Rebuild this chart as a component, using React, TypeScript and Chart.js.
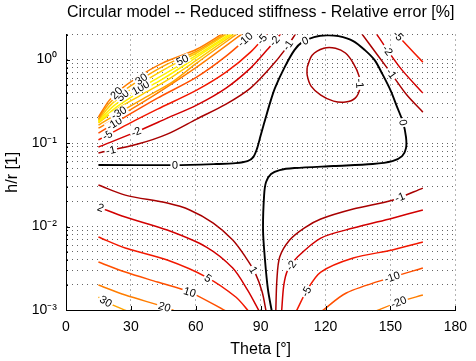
import React, { useEffect, useRef } from 'react';
import { Chart, registerables } from 'chart.js';

Chart.register(...registerables);

type Pt = [number, number];

const titleText = 'Circular model -- Reduced stiffness - Relative error [%]';
const xTitle = 'Theta [°]';
const yTitle = 'h/r [1]';
const xTicks = [0, 30, 60, 90, 120, 150, 180];
const yMajor = [0.001, 0.01, 0.1, 1];
const yMajorLabels = ['10⁻³', '10⁻²', '10⁻¹', '10⁰'];
const yMin = 0.001;
const yMax = 2;

// contour lines, points as [theta (deg), h/r]
const zeroContour: Pt[] = [
  [15, 0.0546], [50, 0.0545], [69.4, 0.0561], [78.5, 0.0575], [83.9, 0.0608], [86.6, 0.068],
  [88.4, 0.0871], [89.8, 0.118], [91.1, 0.156], [92.0, 0.188], [94.3, 0.301], [96.6, 0.456],
  [101.1, 0.813], [105.6, 1.3], [109.2, 1.62], [114.7, 1.86], [120.6, 1.96], [126.0, 1.91],
  [132.8, 1.67], [138.2, 1.3], [142.7, 0.986], [146.3, 0.67], [150.0, 0.431], [153.1, 0.27],
  [155.8, 0.178], [157.2, 0.118], [157.2, 0.0871], [155.4, 0.0698], [150.9, 0.0608],
  [141.8, 0.0561], [123.7, 0.0531], [105.6, 0.0502], [98.8, 0.0475], [94.8, 0.0426],
  [92.5, 0.0341], [91.6, 0.0238], [91.1, 0.00908], [92.0, 0.00397], [93.4, 0.00174], [95.2, 0.00095],
];
const loopM1: Pt[] = [
  [111.5, 0.813], [113.8, 1.13], [119.2, 1.37], [124.6, 1.37], [129.2, 1.2], [132.8, 0.908],
  [135.5, 0.634], [135.9, 0.456], [133.7, 0.346], [129.2, 0.31], [123.7, 0.318], [117.8, 0.376],
  [113.3, 0.482], [111.5, 0.652], [111.5, 0.813],
];
const rightM1: Pt[] = [[136.4, 2.1], [144.1, 1.13], [150.9, 0.652], [157.6, 0.376], [165, 0.235]];
const rightM2: Pt[] = [[143.2, 2.1], [148.6, 1.3], [155.4, 0.748], [165, 0.397]];
const rightM5: Pt[] = [[152.2, 2.1], [157.6, 1.49], [165, 0.933]];

const topM1: Pt[] = [[15, 0.0759], [33.2, 0.0973], [46.8, 0.128], [60.4, 0.194], [74.0, 0.293], [85.3, 0.456], [94.3, 0.791], [101.1, 1.3], [106.5, 2.1]];
const topM2: Pt[] = [[15, 0.0896], [33.2, 0.139], [46.8, 0.199], [60.4, 0.285], [74.0, 0.456], [85.3, 0.791], [92.9, 1.3], [99.7, 2.1]];
const topM5: Pt[] = [[15, 0.109], [28.7, 0.169], [42.3, 0.255], [60.4, 0.431], [74.0, 0.708], [85.3, 1.23], [93.4, 2.1]];
const topM10: Pt[] = [[15, 0.132], [28.7, 0.216], [42.3, 0.346], [60.4, 0.617], [74.0, 1.1], [86.6, 2.1]];
const topM20: Pt[] = [[15, 0.151], [28.7, 0.242], [42.3, 0.397], [60.4, 0.813], [82.1, 2.1]];
const topM30: Pt[] = [[15, 0.164], [26.5, 0.248], [37.8, 0.366], [49.1, 0.538], [60.4, 0.908], [79.8, 2.1]];
const topM50: Pt[] = [[15, 0.174], [24.2, 0.262], [35.5, 0.386], [46.8, 0.568], [60.4, 0.986], [78.5, 2.1]];
const topM100: Pt[] = [[15, 0.178], [23.3, 0.27], [33.2, 0.397], [44.6, 0.583], [60.4, 1.07], [77.6, 2.1]];
const topP100: Pt[] = [[15, 0.183], [21.9, 0.277], [31.0, 0.408], [42.3, 0.6], [60.4, 1.13], [76.7, 2.1]];
const topP50: Pt[] = [[15, 0.188], [20.6, 0.285], [28.7, 0.419], [37.8, 0.583], [49.1, 0.859], [60.4, 1.2], [75.3, 2.1]];
const topP30: Pt[] = [[15, 0.194], [19.7, 0.293], [26.5, 0.419], [35.5, 0.6], [46.8, 0.883], [60.4, 1.26], [74.4, 2.1]];
const topP20: Pt[] = [[15, 0.205], [19.7, 0.318], [24.2, 0.419], [33.2, 0.617], [44.6, 0.908], [60.4, 1.33], [73.1, 2.1]];

const botP1: Pt[] = [[15, 0.0314], [27.4, 0.0238], [46.8, 0.0191], [57.2, 0.0158], [68.1, 0.011], [77.1, 0.00689], [83.0, 0.00431], [87.5, 0.00277], [90.7, 0.00164], [92.5, 0.00097]];
const botP2: Pt[] = [[15, 0.0171], [27.4, 0.013], [46.8, 0.00908], [64.9, 0.00568], [77.1, 0.00318], [83.9, 0.00174], [89.3, 0.00097]];
const botP5: Pt[] = [[15, 0.00748], [27.4, 0.00553], [46.8, 0.00397], [64.9, 0.00248], [78.5, 0.00143], [84.4, 0.00097]];
const botP10: Pt[] = [[15, 0.00376], [27.4, 0.00285], [42.3, 0.00216], [57.2, 0.00164], [74.0, 0.00097]];
const botP20: Pt[] = [[15, 0.00199], [27.4, 0.00151], [45.5, 0.00109], [50.4, 0.00097]];
const botP30: Pt[] = [[15, 0.00143], [19.7, 0.00121], [28.3, 0.00097]];

const botM1: Pt[] = [[97.0, 0.00097], [97.5, 0.00229], [98.8, 0.00431], [103.4, 0.00689], [110.1, 0.00959], [117.8, 0.0123], [132.8, 0.0162], [150.9, 0.0207], [165, 0.0289]];
const botM2: Pt[] = [[99.7, 0.00097], [100.7, 0.00199], [102.5, 0.00301], [107.0, 0.00431], [117.8, 0.00728], [132.8, 0.00959], [150.9, 0.0126], [165, 0.0158]];
const botM5: Pt[] = [[106.5, 0.00097], [111.5, 0.00174], [117.8, 0.00285], [132.8, 0.0042], [150.9, 0.00524], [165, 0.00652]];
const botM10: Pt[] = [[118.3, 0.00097], [129.6, 0.0016], [150.9, 0.00248], [165, 0.00318]];
const botM20: Pt[] = [[143.2, 0.00097], [154.0, 0.00125], [165, 0.00151]];

// [line key, level, points]
const contourLines: [string, number, Pt[]][] = [
  ['topP20', 20, topP20], ['topP30', 30, topP30], ['topP50', 50, topP50], ['topP100', 100, topP100],
  ['topM100', -100, topM100], ['topM50', -50, topM50], ['topM30', -30, topM30], ['topM20', -20, topM20],
  ['topM10', -10, topM10], ['topM5', -5, topM5], ['topM2', -2, topM2], ['topM1', -1, topM1],
  ['rightM1', -1, rightM1], ['rightM2', -2, rightM2], ['rightM5', -5, rightM5], ['loopM1', -1, loopM1],
  ['botP1', 1, botP1], ['botP2', 2, botP2], ['botP5', 5, botP5], ['botP10', 10, botP10],
  ['botP20', 20, botP20], ['botP30', 30, botP30],
  ['botM1', -1, botM1], ['botM2', -2, botM2], ['botM5', -5, botM5], ['botM10', -10, botM10], ['botM20', -20, botM20],
  ['zero', 0, zeroContour],
];

// contour labels: [text, line key, theta, h/r]
const contourLabels: [string, string, number, number][] = [
  ['-1', 'loopM1', 135.9, 0.52],
  ['-1', 'rightM1', 151, 0.7], ['-2', 'rightM2', 147.7, 1.24], ['-5', 'rightM5', 152.8, 1.85],
  ['-1', 'topM1', 20.6, 0.085], ['-2', 'topM2', 32.3, 0.139], ['-5', 'topM5', 18.8, 0.13], ['-10', 'topM10', 22.4, 0.17],
  ['-30', 'topM30', 24.2, 0.235], ['50', 'topP50', 28.7, 0.31], ['100', 'topP100', 34.6, 0.456],
  ['20', 'topP20', 23.3, 0.397], ['30', 'topP30', 34.2, 0.617], ['50', 'topP50', 52.7, 1.13],
  ['-10', 'topM10', 83.1, 1.71], ['-5', 'topM5', 91.1, 1.71], ['-2', 'topM2', 97, 1.62], ['-1', 'topM1', 102.5, 1.49],
  ['2', 'botP2', 16.1, 0.0171], ['1', 'botP1', 86.6, 0.00301], ['5', 'botP5', 65.8, 0.00242],
  ['10', 'botP10', 57.2, 0.00164], ['20', 'botP20', 45.5, 0.00109], ['30', 'botP30', 18.3, 0.00125],
  ['-1', 'botM1', 154.5, 0.0219], ['-2', 'botM2', 105.6, 0.00318], ['-5', 'botM5', 111.5, 0.00164],
  ['-10', 'botM10', 150.9, 0.00242], ['-20', 'botM20', 154, 0.00121],
  ['0', 'zero', 50.4, 0.0546], ['0', 'zero', 110.5, 1.7], ['0', 'zero', 156.6, 0.178],
];

const FONT = '"Liberation Sans", Arial, Helvetica, sans-serif';

const levelColor = (lvl: number): string => {
  const a = Math.abs(lvl);
  const map: Record<number, string> = {
    0: '#000000', 1: '#a80000', 2: '#d20000', 5: '#f21800', 10: '#ff5000',
    20: '#ff7d00', 30: '#ffa400', 50: '#ffcf00', 100: '#fff000',
  };
  return map[a] || '#000';
};

const isMajor = (v: number) => yMajor.findIndex((m) => Math.abs(m - v) / m < 1e-6);

const yTickValues: number[] = [];
for (let d = -3; d <= 0; d++) {
  for (let m = 1; m <= 9; m++) {
    const v = parseFloat((m * Math.pow(10, d)).toPrecision(6));
    if (v <= yMax + 1e-9) yTickValues.push(v);
  }
}

const labelPlugin = {
  id: 'contourLabels',
  afterDatasetsDraw(chart: any) {
    const { ctx, scales } = chart;
    const xs = scales.x;
    const ys = scales.y;
    const byKey: Record<string, Pt[]> = {};
    contourLines.forEach(([k, , p]) => { byKey[k] = p; });
    ctx.save();
    ctx.font = `11px ${FONT}`;
    ctx.textAlign = 'center';
    ctx.textBaseline = 'middle';
    for (const [text, key, th, hv] of contourLabels) {
      const pts = byKey[key];
      if (!pts) continue;
      const pp = pts.map(([a, b]) => [xs.getPixelForValue(a), ys.getPixelForValue(b)]);
      const tx = xs.getPixelForValue(th);
      const ty = ys.getPixelForValue(hv);
      let best = Infinity, bx = tx, by = ty, ang = 0;
      for (let i = 0; i < pp.length - 1; i++) {
        const [x1, y1] = pp[i];
        const [x2, y2] = pp[i + 1];
        const dx = x2 - x1, dy = y2 - y1;
        const l2 = dx * dx + dy * dy || 1;
        let t = ((tx - x1) * dx + (ty - y1) * dy) / l2;
        t = Math.max(0, Math.min(1, t));
        const qx = x1 + t * dx, qy = y1 + t * dy;
        const d = (qx - tx) ** 2 + (qy - ty) ** 2;
        if (d < best) { best = d; bx = qx; by = qy; ang = Math.atan2(dy, dx); }
      }
      if (ang > Math.PI / 2) ang -= Math.PI;
      if (ang < -Math.PI / 2) ang += Math.PI;
      const w = ctx.measureText(text).width;
      ctx.save();
      ctx.translate(bx, by);
      ctx.rotate(ang);
      ctx.fillStyle = '#ffffff';
      ctx.fillRect(-w / 2 - 1.5, -4.5, w + 3, 9);
      ctx.fillStyle = '#000000';
      ctx.fillText(text, 0, 0.5);
      ctx.restore();
    }
    ctx.restore();
  },
};

const tickPlugin = {
  id: 'innerTicks',
  afterDraw(chart: any) {
    const { ctx, chartArea, scales } = chart;
    const { left, bottom } = chartArea;
    ctx.save();
    ctx.strokeStyle = '#000';
    ctx.lineWidth = 1;
    ctx.beginPath();
    for (const v of xTicks) {
      const px = Math.round(scales.x.getPixelForValue(v)) + 0.5;
      ctx.moveTo(px, bottom);
      ctx.lineTo(px, bottom - 4);
    }
    for (const v of yTickValues) {
      const py = Math.round(scales.y.getPixelForValue(v)) + 0.5;
      const len = isMajor(v) >= 0 ? 4 : 2;
      ctx.moveTo(left, py);
      ctx.lineTo(left + len, py);
    }
    ctx.stroke();
    ctx.restore();
  },
};

export default function App() {
  const ref = useRef<HTMLCanvasElement | null>(null);
  useEffect(() => {
    const canvas = ref.current;
    if (!canvas) return;
    const chart = new Chart(canvas, {
      type: 'scatter',
      data: {
        datasets: contourLines.map(([key, lvl, pts]) => ({
          label: key,
          data: pts.map(([x, y]) => ({ x, y })),
          showLine: true,
          pointRadius: 0,
          pointHoverRadius: 0,
          borderColor: levelColor(lvl),
          backgroundColor: levelColor(lvl),
          borderWidth: lvl === 0 ? 1.9 : 1.5,
          tension: 0.3,
          fill: false,
        })),
      },
      options: {
        responsive: false,
        animation: false,
        devicePixelRatio: 1,
        events: [],
        layout: { padding: { top: 0, right: 12, bottom: 0, left: 0 } },
        plugins: {
          legend: { display: false },
          tooltip: { enabled: false },
          title: {
            display: true,
            text: titleText,
            fullSize: false,
            color: '#000',
            font: { family: FONT, size: 16, weight: 'normal' },
            padding: { top: 3.4, bottom: 11.9 },
          },
        },
        scales: {
          x: {
            type: 'linear',
            min: 0,
            max: 180,
            afterBuildTicks: (s: any) => { s.ticks = xTicks.map((v) => ({ value: v })); },
            afterFit: (s: any) => { s.height = 51; },
            ticks: { color: '#000', font: { family: FONT, size: 14 }, padding: 9, maxRotation: 0, autoSkip: false },
            grid: { color: '#666', lineWidth: 1, drawTicks: false },
            border: { display: true, color: '#000', width: 1, dash: [1, 4] },
            title: { display: true, text: xTitle, color: '#000', font: { family: FONT, size: 16 }, padding: { top: 0, bottom: 2 } },
          },
          y: {
            type: 'logarithmic',
            min: yMin,
            max: yMax,
            afterBuildTicks: (s: any) => { s.ticks = yTickValues.map((v) => ({ value: v })); },
            afterFit: (s: any) => { s.width = 66; },
            ticks: {
              color: '#000',
              font: { family: FONT, size: 14 },
              padding: 9,
              autoSkip: false,
              callback: (v: any) => {
                const i = isMajor(Number(v));
                return i >= 0 ? yMajorLabels[i] : '';
              },
            },
            grid: { color: '#666', lineWidth: 1, drawTicks: false },
            border: { display: true, color: '#000', width: 1, dash: [1, 4] },
            title: { display: true, text: yTitle, color: '#000', font: { family: FONT, size: 16 }, padding: { top: 2.8, bottom: 0 } },
          },
        },
      },
      plugins: [labelPlugin, tickPlugin],
    } as any);
    return () => chart.destroy();
  }, []);
  return (
    <div style={{ position: 'fixed', left: 0, top: 0, width: 476, height: 361, background: '#fff' }}>
      <canvas ref={ref} width={476} height={361} style={{ display: 'block' }} />
    </div>
  );
}
